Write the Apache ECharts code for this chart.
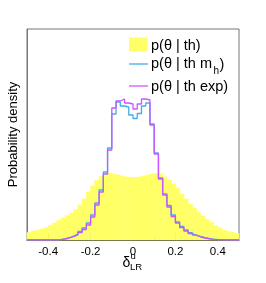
<!DOCTYPE html>
<html>
<head>
<meta charset="utf-8">
<script src="https://cdn.jsdelivr.net/npm/echarts@6/dist/echarts.min.js"></script>
<style>
html,body{margin:0;padding:0;background:#fff;}
#c{width:266px;height:283px;}
</style>
</head>
<body>
<div id="c"></div>
<script>
// Histogram binning (x range -0.5..0.5, 50 bins)
var binStart = -0.5;
var binWidth = 0.02;
// p(theta | th) - yellow filled histogram
var thValues = [7.5,9,10,11,12.5,14.5,17,19.5,22,24.5,27,30.5,35,41,48,54,59.5,63.5,66,67,
  66,65,64,63,62.5,62.5,63,64,65,66,66.5,66,63,60,56,52,46,41,36,32,
  27.5,24,20.5,17.5,14.5,12,10,8.5,7.5,6.5];
// p(theta | th m_h) - blue line
var thMhValues = [0,0,0,0,0,0,0,0.4,1.2,2.3,3.8,5.8,8.5,12,17,25,37,50,68,92,
  126,138,134,133,125,121.5,126.5,134,137,116,87,62,46,34.5,25,18,13.5,10,7.3,5,
  3.5,2.4,1.5,0.9,0.5,0.3,0.15,0,0,0];
// p(theta | th exp) - purple line
var thExpValues = [0,0,0,0,0,0,0,0.3,1,2,3.3,5,7.3,10.5,15,23,35,48,66,90,
  132,139,141,137,136,131,136,141,140,115,86,61,45,33,23.5,17,12.5,9,6.5,4.5,
  3,2,1.2,0.7,0.4,0.2,0.1,0,0,0];
var majorTicks = [-0.4,-0.2,0,0.2,0.4];
var minorTicks = [-0.45,-0.35,-0.3,-0.25,-0.15,-0.1,-0.05,0.05,0.1,0.15,0.25,0.3,0.35,0.45];
var seriesNames = ['p(θ | th)','p(θ | th m','p(θ | th exp)'];

var barData = thValues.map(function(v,i){
  var x0 = binStart + i*binWidth;
  return [x0, x0+binWidth, v];
});
function stepData(vals){
  var d = vals.map(function(v,i){ return [binStart + i*binWidth, v]; });
  d.push([binStart + vals.length*binWidth, vals[vals.length-1]]);
  return d;
}
var font = '"Liberation Sans", Arial, sans-serif';

var chart = echarts.init(document.getElementById('c'), null, {renderer:'canvas'});
chart.setOption({
  animation:false,
  grid:{left:27, right:27, top:29, bottom:43, show:true, borderColor:'#777', borderWidth:1},
  xAxis:[{
    type:'value', min:-0.5, max:0.5, position:'bottom',
    axisLine:{show:true, onZero:false, lineStyle:{color:'#444', width:1}},
    axisTick:{show:true, inside:true, length:3.5, customValues:minorTicks, lineStyle:{color:'#444'}},
    axisLabel:{show:false},
    splitLine:{show:false}
  },{
    type:'value', min:-0.5, max:0.5, position:'bottom', offset:0,
    axisLine:{show:false, onZero:false},
    axisTick:{show:true, inside:true, length:7, customValues:majorTicks, lineStyle:{color:'#444'}},
    axisLabel:{show:true, customValues:majorTicks, margin:6, color:'#000', fontSize:11.5, fontFamily:font,
      formatter:function(v){ return String(Math.round(v*10)/10); }},
    splitLine:{show:false}
  }],
  yAxis:{type:'value', min:0, max:211, show:true,
    axisLine:{show:true, onZero:false, lineStyle:{color:'#777'}}, axisTick:{show:false}, axisLabel:{show:false}, splitLine:{show:false}},
  series:[{
    type:'custom', name:seriesNames[0], xAxisIndex:0,
    data:barData,
    renderItem:function(params, api){
      var p0 = api.coord([api.value(0), 0]);
      var p1 = api.coord([api.value(1), api.value(2)]);
      return {type:'rect', shape:{x:p0[0], y:p1[1], width:p1[0]-p0[0], height:p0[1]-p1[1]},
        style:{fill:'#ffff66', stroke:'#ffff66', lineWidth:0.6}};
    },
    z:1
  },{
    type:'line', name:seriesNames[1], step:'end', xAxisIndex:0, data:stepData(thMhValues),
    showSymbol:false, lineStyle:{color:'#44aaee', width:1.3}, z:3
  },{
    type:'line', name:seriesNames[2], step:'end', xAxisIndex:0, data:stepData(thExpValues),
    showSymbol:false, lineStyle:{color:'#cc55ff', width:1.3}, z:4
  }],
  graphic:[
    {type:'rect', shape:{x:129, y:37.5, width:18.5, height:14}, style:{fill:'#ffff66'}},
    {type:'text', x:151, y:45.5, style:{text:seriesNames[0], font:'14.5px '+font, fill:'#000', textVerticalAlign:'middle'}},
    {type:'line', shape:{x1:129, y1:64, x2:148, y2:64}, style:{stroke:'#44aaee', lineWidth:1.3}},
    {type:'text', x:151, y:64, style:{text:seriesNames[1], font:'14.5px '+font, fill:'#000', textVerticalAlign:'middle'}},
    {type:'text', x:213.5, y:71, style:{text:'h', font:'10px '+font, fill:'#000', textVerticalAlign:'middle'}},
    {type:'text', x:219.5, y:65, style:{text:')', font:'14.5px '+font, fill:'#000', textVerticalAlign:'middle'}},
    {type:'line', shape:{x1:129, y1:86, x2:148, y2:86}, style:{stroke:'#cc55ff', lineWidth:1.3}},
    {type:'text', x:151, y:86.5, style:{text:seriesNames[2], font:'14.5px '+font, fill:'#000', textVerticalAlign:'middle'}},
    {type:'text', x:13.5, y:134.5, rotation:Math.PI/2, style:{text:'Probability density', font:'13px '+font, fill:'#000', textAlign:'center', textVerticalAlign:'middle'}},
    {type:'text', x:122.5, y:263.5, style:{text:'δ', font:'14px '+font, fill:'#000', textVerticalAlign:'middle'}},
    {type:'text', x:130.5, y:256.5, style:{text:'u', font:'9.5px '+font, fill:'#000', textVerticalAlign:'middle'}},
    {type:'text', x:130, y:267.5, style:{text:'LR', font:'9.5px '+font, fill:'#000', textVerticalAlign:'middle'}}
  ]
});
</script>
</body>
</html>
